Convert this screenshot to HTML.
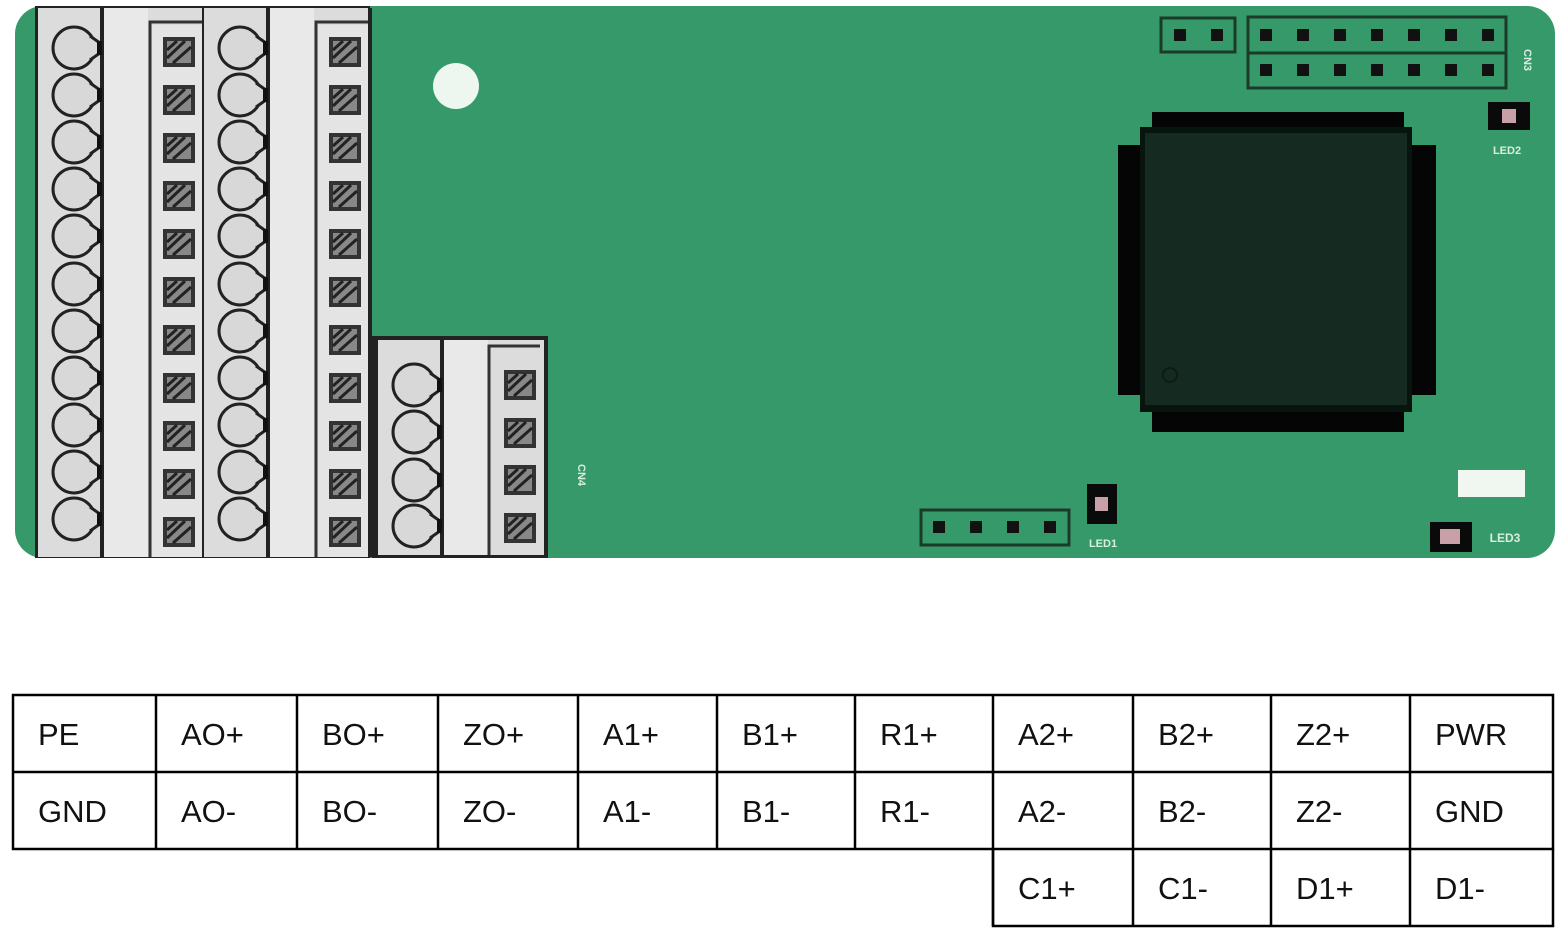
<!DOCTYPE html>
<html><head><meta charset="utf-8"><style>
html,body{margin:0;padding:0;background:#fff;width:1563px;height:938px;overflow:hidden}
svg{position:absolute;left:0;top:0}
text{font-family:"Liberation Sans",sans-serif}
</style></head><body>
<svg width="1563" height="938" viewBox="0 0 1563 938" xmlns="http://www.w3.org/2000/svg">
<defs>
  <g id="lp">
    <circle cx="-4" cy="0" r="21" fill="#d8d8d8" stroke="#222" stroke-width="3"/>
    <path d="M12,-12 L22,-5 L22,5 L12,12" fill="#d8d8d8" stroke="#222" stroke-width="3"/>
    <rect x="19" y="-7" width="5" height="14" fill="#111"/>
  </g>
  <g id="sq">
    <rect x="-16" y="-15" width="32" height="30" fill="#333"/>
    <rect x="-12" y="-11" width="24" height="22" fill="#888"/>
    <path d="M-12,6 L6,-11 M-6,11 L12,-5 M-12,-2 L-2,-11" stroke="#222" stroke-width="3"/>
  </g>
  <g id="blk">
    <rect x="0" y="0" width="167" height="549" fill="#dcdcdc"/>
    <rect x="62" y="0" width="4" height="549" fill="#222"/>
    <rect x="66" y="0" width="44" height="549" fill="#e9e9e9"/>
    <path d="M112,549 L112,14 L164,14" fill="none" stroke="#333" stroke-width="3"/>
    <rect x="114" y="17" width="50" height="532" fill="#e4e4e4"/>
    <rect x="164" y="0" width="4" height="549" fill="#222"/>
  </g>
</defs>
<rect x="15" y="6" width="1540" height="552" rx="28" fill="#36996a"/>
<rect x="35" y="6" width="335" height="552" fill="#222"/>
<g transform="translate(38,8)"><use href="#blk"/></g>
<g transform="translate(204,8)"><use href="#blk"/></g>
<g>
  <use href="#lp" x="78" y="48"/><use href="#lp" x="78" y="95"/><use href="#lp" x="78" y="142"/><use href="#lp" x="78" y="189"/><use href="#lp" x="78" y="236"/><use href="#lp" x="78" y="284"/><use href="#lp" x="78" y="331"/><use href="#lp" x="78" y="378"/><use href="#lp" x="78" y="425"/><use href="#lp" x="78" y="472"/><use href="#lp" x="78" y="519"/>
  <use href="#lp" x="244" y="48"/><use href="#lp" x="244" y="95"/><use href="#lp" x="244" y="142"/><use href="#lp" x="244" y="189"/><use href="#lp" x="244" y="236"/><use href="#lp" x="244" y="284"/><use href="#lp" x="244" y="331"/><use href="#lp" x="244" y="378"/><use href="#lp" x="244" y="425"/><use href="#lp" x="244" y="472"/><use href="#lp" x="244" y="519"/>
  <use href="#sq" x="179" y="52"/><use href="#sq" x="179" y="100"/><use href="#sq" x="179" y="148"/><use href="#sq" x="179" y="196"/><use href="#sq" x="179" y="244"/><use href="#sq" x="179" y="292"/><use href="#sq" x="179" y="340"/><use href="#sq" x="179" y="388"/><use href="#sq" x="179" y="436"/><use href="#sq" x="179" y="484"/><use href="#sq" x="179" y="532"/>
  <use href="#sq" x="345" y="52"/><use href="#sq" x="345" y="100"/><use href="#sq" x="345" y="148"/><use href="#sq" x="345" y="196"/><use href="#sq" x="345" y="244"/><use href="#sq" x="345" y="292"/><use href="#sq" x="345" y="340"/><use href="#sq" x="345" y="388"/><use href="#sq" x="345" y="436"/><use href="#sq" x="345" y="484"/><use href="#sq" x="345" y="532"/>
</g>
<rect x="372" y="336" width="176" height="222" fill="#222"/>
<rect x="378" y="340" width="166" height="215" fill="#dcdcdc"/>
<rect x="440" y="340" width="4" height="215" fill="#222"/>
<rect x="444" y="340" width="44" height="215" fill="#e9e9e9"/>
<path d="M489,555 L489,346 L540,346" fill="none" stroke="#333" stroke-width="3"/>
<use href="#lp" x="418" y="385"/><use href="#lp" x="418" y="432"/><use href="#lp" x="418" y="480"/><use href="#lp" x="418" y="526"/>
<use href="#sq" x="520" y="385"/><use href="#sq" x="520" y="433"/><use href="#sq" x="520" y="480"/><use href="#sq" x="520" y="528"/>
<text x="0" y="0" transform="translate(578,475) rotate(90)" font-size="11" fill="#d8eee0" text-anchor="middle" font-weight="bold">CN4</text>
<circle cx="456" cy="86" r="23" fill="#eef7ef"/>
<rect x="1161" y="18" width="74" height="34" fill="none" stroke="#1b3a28" stroke-width="3"/>
<rect x="1174" y="29" width="12" height="12" fill="#111"/><rect x="1211" y="29" width="12" height="12" fill="#111"/>
<rect x="1248" y="17" width="258" height="36" fill="none" stroke="#1b3a28" stroke-width="3"/>
<rect x="1248" y="53" width="258" height="35" fill="none" stroke="#1b3a28" stroke-width="3"/>
<g fill="#111">
<rect x="1260" y="29" width="12" height="12"/><rect x="1297" y="29" width="12" height="12"/><rect x="1334" y="29" width="12" height="12"/><rect x="1371" y="29" width="12" height="12"/><rect x="1408" y="29" width="12" height="12"/><rect x="1445" y="29" width="12" height="12"/><rect x="1482" y="29" width="12" height="12"/>
<rect x="1260" y="64" width="12" height="12"/><rect x="1297" y="64" width="12" height="12"/><rect x="1334" y="64" width="12" height="12"/><rect x="1371" y="64" width="12" height="12"/><rect x="1408" y="64" width="12" height="12"/><rect x="1445" y="64" width="12" height="12"/><rect x="1482" y="64" width="12" height="12"/>
</g>
<text transform="translate(1524,60) rotate(90)" font-size="11" fill="#d8eee0" text-anchor="middle" font-weight="bold">CN3</text>
<rect x="1152" y="112" width="252" height="320" fill="#050505"/>
<rect x="1118" y="145" width="318" height="250" fill="#050505"/>
<rect x="1140" y="127" width="272" height="285" fill="#08140e"/>
<rect x="1145" y="133" width="262" height="272" fill="#152b22"/>
<circle cx="1170" cy="375" r="7" fill="none" stroke="#0c1c15" stroke-width="2"/>
<rect x="1488" y="102" width="42" height="28" fill="#0a0a0a"/><rect x="1502" y="109" width="14" height="14" fill="#c8a0a8"/>
<text x="1507" y="154" font-size="11" fill="#d8eee0" text-anchor="middle" font-weight="bold">LED2</text>
<rect x="1087" y="484" width="30" height="40" fill="#0a0a0a"/><rect x="1095" y="497" width="13" height="14" fill="#c8a0a8"/>
<text x="1103" y="547" font-size="11" fill="#d8eee0" text-anchor="middle" font-weight="bold">LED1</text>
<rect x="921" y="510" width="148" height="35" fill="none" stroke="#1b3a28" stroke-width="3"/>
<rect x="933" y="521" width="12" height="12" fill="#111"/><rect x="970" y="521" width="12" height="12" fill="#111"/><rect x="1007" y="521" width="12" height="12" fill="#111"/><rect x="1044" y="521" width="12" height="12" fill="#111"/>
<rect x="1458" y="470" width="67" height="27" fill="#f0f7f0"/>
<rect x="1430" y="522" width="42" height="30" fill="#0a0a0a"/><rect x="1440" y="529" width="20" height="15" fill="#c8a0a8"/>
<text x="1505" y="542" font-size="12" fill="#d8eee0" text-anchor="middle" font-weight="bold">LED3</text>
<g stroke="#000" stroke-width="2.5" fill="none">
<rect x="13" y="695" width="1540" height="154"/>
<line x1="13" y1="772" x2="1553" y2="772"/>
<path d="M993,849 L993,926 L1553,926 L1553,849"/>
<line x1="156" y1="695" x2="156" y2="849"/><line x1="297" y1="695" x2="297" y2="849"/><line x1="438" y1="695" x2="438" y2="849"/><line x1="578" y1="695" x2="578" y2="849"/><line x1="717" y1="695" x2="717" y2="849"/><line x1="855" y1="695" x2="855" y2="849"/>
<line x1="993" y1="695" x2="993" y2="926"/><line x1="1133" y1="695" x2="1133" y2="926"/><line x1="1271" y1="695" x2="1271" y2="926"/><line x1="1410" y1="695" x2="1410" y2="926"/>
</g>
<g font-size="31" fill="#111">
<text x="38" y="745">PE</text><text x="181" y="745">AO+</text><text x="322" y="745">BO+</text><text x="463" y="745">ZO+</text><text x="603" y="745">A1+</text><text x="742" y="745">B1+</text><text x="880" y="745">R1+</text><text x="1018" y="745">A2+</text><text x="1158" y="745">B2+</text><text x="1296" y="745">Z2+</text><text x="1435" y="745">PWR</text>
<text x="38" y="822">GND</text><text x="181" y="822">AO-</text><text x="322" y="822">BO-</text><text x="463" y="822">ZO-</text><text x="603" y="822">A1-</text><text x="742" y="822">B1-</text><text x="880" y="822">R1-</text><text x="1018" y="822">A2-</text><text x="1158" y="822">B2-</text><text x="1296" y="822">Z2-</text><text x="1435" y="822">GND</text>
<text x="1018" y="899">C1+</text><text x="1158" y="899">C1-</text><text x="1296" y="899">D1+</text><text x="1435" y="899">D1-</text>
</g>
</svg>
</body></html>
